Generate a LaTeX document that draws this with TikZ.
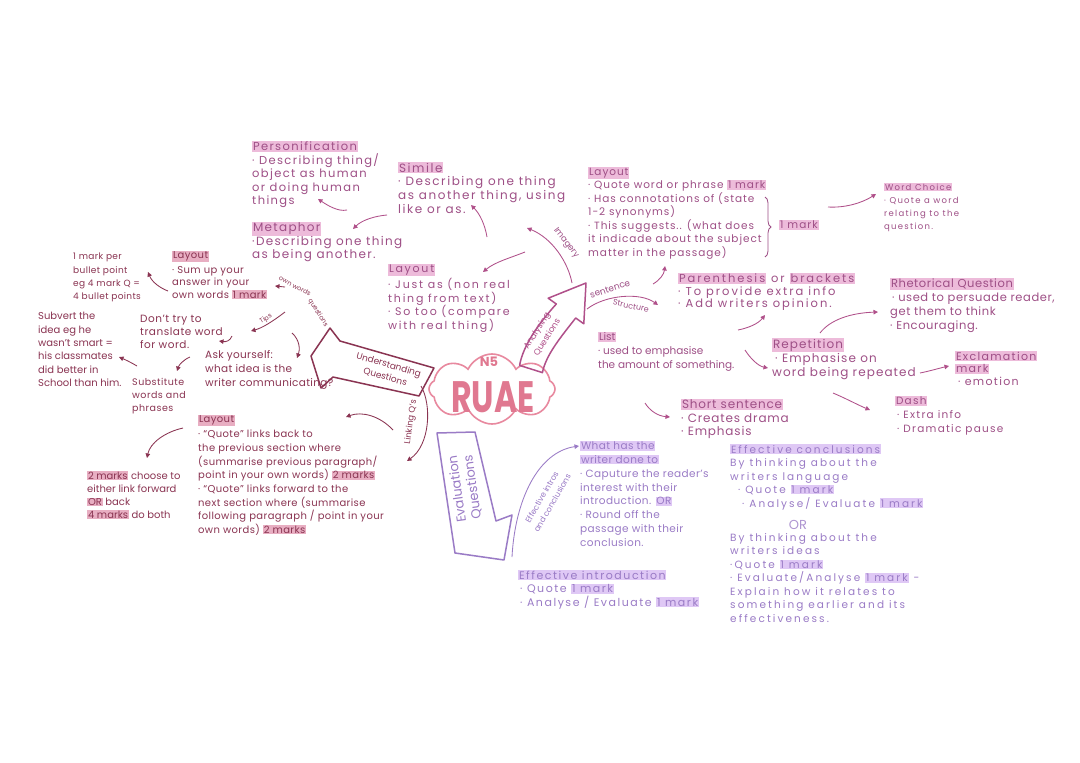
\documentclass[tikz,border=0pt]{standalone}
\usepackage{fontspec}
\setmainfont{Poppins}
\usetikzlibrary{arrows.meta,shapes.symbols,decorations.pathreplacing}
\definecolor{maroon}{HTML}{8A3452}
\definecolor{lhl}{HTML}{E8AEC2}
\definecolor{mag}{HTML}{9E4F86}
\definecolor{mhl}{HTML}{EDBBDA}
\definecolor{purp}{HTML}{9A7BC6}
\definecolor{phl}{HTML}{DFC8F5}
\definecolor{cloudc}{HTML}{E8899F}
\definecolor{ruaec}{HTML}{E07890}
\definecolor{anarrow}{HTML}{B0508A}
\newcommand\hl[2]{{\setlength{\fboxsep}{0.8pt}\colorbox{#1}{#2}}}
\newcommand\fs[2]{\fontsize{#1}{#2}\selectfont}
\newcommand\lsp[1]{\addfontfeature{LetterSpace=#1}}
\begin{document}
\begin{tikzpicture}[x=1pt,y=-1pt,
  blk/.style={anchor=north west,inner sep=0pt,align=left},
  lab/.style={inner sep=0pt,align=center},
  lnk/.style={line width=0.85pt,-{Triangle[length=4.5pt,width=4.5pt]}},
  bigarrow/.style={line width=1.5pt,line join=round}]
\fill[white] (0,0) rectangle (1080,763);
\useasboundingbox (0,0) rectangle (1080,763);

% ---------- centre ----------
\node[cloud, cloud puffs=8, cloud puff arc=130, cloud ignores aspect, draw=cloudc, line width=1.6pt, minimum width=126pt, minimum height=70pt, inner sep=0pt] (core) at (492,389) {};
\node[lab, text=ruaec, font=\fs{13}{14}\bfseries] (nfive) at (489,362) {N5};
\node[lab, text=ruaec, font=\fs{44}{44}\bfseries, xscale=0.72] (ruae) at (493,397) {RUAE};

% ---------- big arrows ----------
\draw[bigarrow, draw=maroon] (311,356) -- (330,328) -- (340,341) -- (434,368) -- (419,396) -- (333,377) -- (321,388) -- cycle;
\node[lab, text=maroon, font=\fs{9}{12.5}, rotate=-16] (uq) at (387,371) {Understanding\\Questions};

\draw[bigarrow, draw=anarrow] (519.6,365.4) .. controls (523,345) and (540,322) .. (556.3,304) -- (548.2,298.2) -- (586,283) -- (583.8,323.8) -- (575.7,318) .. controls (560,338) and (546,355) .. (542.4,372.6) -- cycle;
\node[lab, text=anarrow, font=\fs{8.5}{12}, rotate=58] (aq) at (542,334) {Analysing\\Questions};

\draw[bigarrow, draw=purp] (437,433) -- (475,432) -- (496,521) -- (512,515) -- (504,560) -- (455,553) -- cycle;
\node[lab, text=purp, font=\fs{13}{15.5}, rotate=98] (eq) at (465,488) {Evaluation\\Questions};

% ---------- understanding side ----------
\node[blk, text=maroon, font=\fs{9}{13.3}\lsp{4}] (markper) at (73,253) {1 mark per\\bullet point\\eg 4 mark Q =\\4 bullet points};
\node[blk, text=maroon, font=\fs{10}{12.5}\lsp{4}] (llay) at (172,251) {\hl{lhl}{Layout}\\[2pt]· Sum up your\\answer in your\\own words \hl{lhl}{1 mark}};
\node[blk, text=maroon, font=\fs{10.5}{13}\lsp{5}] (dont) at (140,315) {Don't try to\\translate word\\for word.};
\node[blk, text=maroon, font=\fs{10}{13.4}] (subv) at (38,312) {Subvert the\\idea eg he\\wasn't smart =\\his classmates\\did better in\\School than him.};
\node[blk, text=maroon, font=\fs{10.5}{14}\lsp{3}] (ask) at (205,350) {Ask yourself:\\what idea is the\\writer communicating?};
\node[blk, text=maroon, font=\fs{9.5}{13}\lsp{5}] (subst) at (132,378) {Substitute\\words and\\phrases};
\node[blk, text=maroon, font=\fs{10}{13.7}\lsp{4}] (linklay) at (198,415) {\hl{lhl}{Layout}\\[1pt]· “Quote” links back to\\the previous section where\\(summarise previous paragraph/\\point in your own words) \hl{lhl}{2 marks}\\· “Quote” links forward to the\\next section where (summarise\\following paragraph / point in your\\own words) \hl{lhl}{2 marks}};
\node[blk, text=maroon, font=\fs{10}{13}] (choose) at (87,471) {\hl{lhl}{2 marks} choose to\\either link forward\\\hl{lhl}{OR} back\\\hl{lhl}{4 marks} do both};

\node[lab, text=maroon, font=\fs{6.5}{7}, rotate=-28] (ownw) at (295,286) {own words};
\node[lab, text=maroon, font=\fs{6.5}{7}, rotate=-58] (ownq) at (318,313) {questions};
\node[lab, text=maroon, font=\fs{6.5}{7}, rotate=30] (tips) at (266,319) {Tips};
\node[lab, text=maroon, font=\fs{8.5}{9}, rotate=82] (linkq) at (411,422) {Linking Q's};

\coordinate (a1s) at (168,291); \coordinate (a1e) at (148,272);
\coordinate (a2s) at (285,287); \coordinate (a2e) at (275,286);
\coordinate (a3s) at (285,312); \coordinate (a3e) at (251,331);
\coordinate (a4s) at (232,336); \coordinate (a4e) at (219,341);
\coordinate (a5s) at (292,333); \coordinate (a5e) at (297,358);
\coordinate (a6s) at (190,357); \coordinate (a6e) at (177,371);
\coordinate (a7s) at (137,366); \coordinate (a7e) at (119,357);
\coordinate (a8s) at (393,430); \coordinate (a8e) at (346,417);
\coordinate (a9s) at (183,428); \coordinate (a9e) at (147,458);
\coordinate (a10s) at (421,386); \coordinate (a10e) at (407,461);
\begin{scope}[draw=maroon]
\draw[lnk] (a1s) .. controls (160,288) and (152,282) .. (a1e);
\draw[lnk] (a2s) -- (a2e);
\draw[lnk] (a3s) .. controls (272,322) and (262,328) .. (a3e);
\draw[lnk] (a4s) .. controls (230,341) and (226,342) .. (a4e);
\draw[lnk] (a5s) .. controls (300,340) and (300,350) .. (a5e);
\draw[lnk] (a6s) .. controls (183,360) and (179,365) .. (a6e);
\draw[lnk] (a7s) .. controls (132,363) and (126,360) .. (a7e);
\draw[lnk] (a8s) .. controls (380,416) and (362,411) .. (a8e);
\draw[lnk] (a9s) .. controls (165,432) and (150,443) .. (a9e);
\draw[lnk] (a10s) .. controls (432,405) and (430,445) .. (a10e);
\end{scope}

% ---------- analysing side ----------
\node[blk, text=mag, font=\fs{11.5}{13.5}\lsp{12}] (pers) at (252,141) {\hl{mhl}{Personification}\\· Describing thing/\\object as human\\or doing human\\things};
\node[blk, text=mag, font=\fs{12}{12.8}\lsp{11}] (meta) at (252,222) {\hl{mhl}{Metaphor}\\·Describing one thing\\as being another.};
\node[blk, text=mag, font=\fs{12}{13.7}\lsp{13}] (simile) at (398,162) {\hl{mhl}{Simile}\\· Describing one thing\\as another thing, using\\like or as.};
\node[blk, text=mag, font=\fs{11}{13.5}\lsp{16}] (ilay) at (388,264) {\hl{mhl}{Layout}\\[1pt]· Just as (non real\\thing from text)\\· So too (compare\\with real thing)};
\node[blk, text=mag, font=\fs{10.5}{13.5}\lsp{9}] (rlay) at (588,167) {\hl{mhl}{Layout}\\· Quote word or phrase \hl{mhl}{1 mark}\\· Has connotations of (state\\1-2 synonyms)\\· This suggests.. (what does\\it indicade about the subject\\matter in the passage)};
\coordinate (brt) at (765,197); \coordinate (brb) at (765,257);
\draw[mag, line width=0.8pt, decorate, decoration={brace, amplitude=6pt}] (brt) -- (brb);
\node[lab, text=mag, font=\fs{10.5}{12}\lsp{10}] (onemk) at (799,225) {\hl{mhl}{1 mark}};
\node[blk, text=mag, font=\fs{8.5}{13}\lsp{15}] (wc) at (884,183) {\hl{mhl}{Word Choice}\\· Quote a word\\relating to the\\question.};
\node[blk, text=mag, font=\fs{11.5}{12.5}\lsp{17}] (paren) at (678,273) {\hl{mhl}{Parenthesis} or \hl{mhl}{brackets}\\· To provide extra info\\· Add writers opinion.};
\node[blk, text=mag, font=\fs{10.5}{14}] (list) at (598,332) {\hl{mhl}{List}\\· used to emphasise\\the amount of something.};
\node[blk, text=mag, font=\fs{12}{14}\lsp{9}] (rep) at (772,338) {\hl{mhl}{Repetition}\\\hspace*{3pt}· Emphasise on\\word being repeated};
\node[blk, text=mag, font=\fs{11.5}{14}\lsp{5}] (rhet) at (890,278) {\hl{mhl}{Rhetorical Question}\\\hspace*{2pt}· used to persuade reader,\\get them to think\\· Encouraging.};
\node[blk, text=mag, font=\fs{11}{12.5}\lsp{12}] (excl) at (955,351) {\hl{mhl}{Exclamation}\\\hl{mhl}{mark}\\\hspace*{3pt}· emotion};
\node[blk, text=mag, font=\fs{10.5}{14}\lsp{12}] (dash) at (895,396) {\hl{mhl}{Dash}\\\hspace*{2pt}· Extra info\\\hspace*{2pt}· Dramatic pause};
\node[blk, text=mag, font=\fs{12}{13.5}\lsp{7}] (short) at (681,399) {\hl{mhl}{Short sentence}\\· Creates drama\\· Emphasis};

\node[lab, text=mag, font=\fs{8.5}{9}, rotate=-52] (imag) at (566,243) {Imagery};
\node[lab, text=mag, font=\fs{9}{10}, rotate=18] (sent) at (610,289) {sentence};
\node[lab, text=mag, font=\fs{8}{9}, rotate=-12] (struc) at (631,306) {Structure};

\coordinate (b1s) at (572,283); \coordinate (b1e) at (527,228);
\coordinate (b2s) at (525,252); \coordinate (b2e) at (483,272);
\coordinate (b3s) at (487,237); \coordinate (b3e) at (471,205);
\coordinate (b4s) at (387,215); \coordinate (b4e) at (353,229);
\coordinate (b5s) at (347,210); \coordinate (b5e) at (318,199);
\coordinate (b6s) at (587,309); \coordinate (b6e) at (658,305);
\coordinate (b7s) at (653,284); \coordinate (b7e) at (665,266);
\coordinate (b8s) at (738,330); \coordinate (b8e) at (765,315);
\coordinate (b9s) at (745,350); \coordinate (b9e) at (768,368);
\coordinate (b10s) at (645,403); \coordinate (b10e) at (670,417);
\coordinate (b11s) at (820,333); \coordinate (b11e) at (878,312);
\coordinate (b12s) at (920,373); \coordinate (b12e) at (949,366);
\coordinate (b13s) at (833,393); \coordinate (b13e) at (870,410);
\coordinate (b14s) at (828,207); \coordinate (b14e) at (876,194);
\begin{scope}[draw=anarrow]
\draw[lnk] (b1s) .. controls (568,262) and (552,238) .. (b1e);
\draw[lnk] (b2s) .. controls (510,258) and (495,262) .. (b2e);
\draw[lnk] (b3s) .. controls (485,225) and (480,214) .. (b3e);
\draw[lnk] (b4s) .. controls (375,216) and (362,220) .. (b4e);
\draw[lnk] (b5s) .. controls (338,212) and (327,205) .. (b5e);
\draw[lnk] (b6s) .. controls (605,295) and (640,292) .. (b6e);
\draw[lnk] (b7s) .. controls (660,280) and (664,274) .. (b7e);
\draw[lnk] (b8s) .. controls (748,328) and (758,324) .. (b8e);
\draw[lnk] (b9s) .. controls (750,358) and (758,366) .. (b9e);
\draw[lnk] (b10s) .. controls (650,411) and (658,416) .. (b10e);
\draw[lnk] (b11s) .. controls (830,320) and (850,313) .. (b11e);
\draw[lnk] (b12s) .. controls (930,371) and (940,368) .. (b12e);
\draw[lnk] (b13s) .. controls (845,398) and (858,405) .. (b13e);
\draw[lnk] (b14s) .. controls (845,208) and (862,203) .. (b14e);
\end{scope}

% ---------- evaluation side ----------
\node[blk, text=purp, font=\fs{10.5}{13.8}\lsp{4}] (what) at (580,441) {\hl{phl}{What has the}\\\hl{phl}{writer done to}\\· Caputure the reader's\\interest with their\\introduction. \hl{phl}{OR}\\· Round off the\\passage with their\\conclusion.};
\node[blk, text=purp, font=\fs{11}{13.5}\lsp{14}] (intro) at (518,570) {\hl{phl}{Effective introduction}\\\hspace*{2pt}· Quote \hl{phl}{1 mark}\\\hspace*{2pt}· Analyse / Evaluate \hl{phl}{1 mark}};
\node[blk, text=purp, font=\fs{10.5}{13.5}\lsp{20}] (concl) at (730,444) {\hl{phl}{Effective conclusions}\\By thinking about the\\writers language\\\hspace*{8pt}· Quote \hl{phl}{1 mark}\\\hspace*{12pt}· Analyse/ Evaluate \hl{phl}{1 mark}};
\node[lab, text=purp!80, font=\fs{13}{14}] (orr) at (798,525) {OR};
\node[blk, text=purp, font=\fs{10.5}{13.5}\lsp{20}] (concl2) at (730,533) {By thinking about the\\writers ideas\\·Quote \hl{phl}{1 mark}\\· Evaluate/Analyse \hl{phl}{1 mark} -\\Explain how it relates to\\something earlier and its\\effectiveness.};
\node[lab, text=purp, font=\fs{8}{12}, rotate=60] (effic) at (547,500) {Effective intros\\and conclusions};
\coordinate (c1s) at (512,557); \coordinate (c1e) at (579,446);
\draw[lnk, draw=purp] (c1s) .. controls (515,500) and (538,452) .. (c1e);
\end{tikzpicture}
\end{document}
